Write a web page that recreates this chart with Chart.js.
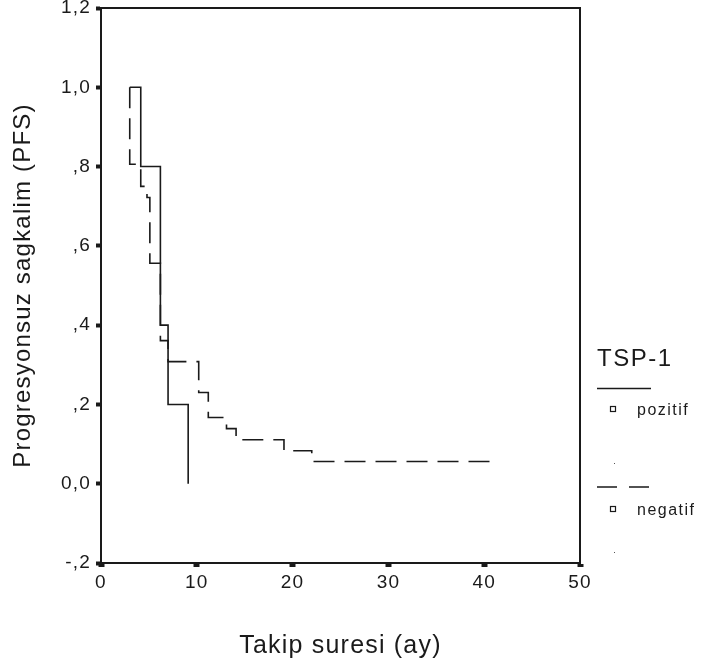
<!DOCTYPE html>
<html>
<head>
<meta charset="utf-8">
<script src="https://cdn.jsdelivr.net/npm/chart.js@4"></script>
<style>
    html, body { margin: 0; padding: 0; background: #fff; }
    canvas { display: block; }
</style>
</head>
<body>
<canvas id="kmChart" width="704" height="669"></canvas>
<script>
// -- Data --
const legendTitle = 'TSP-1';
const groups = ['pozitif', 'negatif'];

// pozitif (solid)
const posTimes = [3.0, 4.15, 6.2, 7.0, 9.1];
const posSurv = [1.0, 0.8, 0.4, 0.2, 0.0];

// negatif (dashed)
const negTimes = [3.0, 3.0, 4.15, 4.8, 5.1, 6.2, 7.0, 10.2, 11.2, 13.1, 14.1, 19.1, 22.0, 41.0];
const negSurv = [1.0, 0.806, 0.75, 0.722, 0.556, 0.361, 0.308, 0.23, 0.167, 0.139, 0.111, 0.083, 0.056, 0.056];

const yTickLabels = ['-,2', '0,0', ',2', ',4', ',6', ',8', '1,0', '1,2'];
const xTickLabels = ['0', '10', '20', '30', '40', '50'];

const yTitle = 'Progresyonsuz sagkalim (PFS)';
const xTitle = 'Takip suresi (ay)';

// -- Helpers --
const toPoints = (times, surv) => times.map((t, i) => ({ x: t, y: surv[i] }));
const ink = '#1a1a1a';
const family = '"Liberation Sans", Arial, sans-serif';

// letter spacing and plot frame
const framePlugin = {
    id: 'frame',
    beforeDraw(chart) {
        chart.ctx.letterSpacing = '1.2px';
    },
    afterDatasetsDraw(chart) {
        const { ctx, chartArea: a } = chart;
        ctx.save();
        ctx.strokeStyle = ink;
        ctx.lineWidth = 2;
        ctx.beginPath();
        ctx.moveTo(a.left, a.top);
        ctx.lineTo(a.right, a.top);
        ctx.lineTo(a.right, a.bottom);
        ctx.stroke();
        ctx.restore();
    }
};

// legend block on the right
const legendPlugin = {
    id: 'kmLegend',
    afterDraw(chart) {
        const ctx = chart.ctx;
        ctx.save();
        ctx.fillStyle = ink;
        ctx.strokeStyle = ink;
        ctx.letterSpacing = '1.5px';
        ctx.textAlign = 'left';
        ctx.textBaseline = 'alphabetic';
        ctx.font = '24px ' + family;
        ctx.fillText(legendTitle, 597, 366);

        const rows = [
            { y: 388.5, dash: [], sq: 406.5, label: 411, dot: 463 },
            { y: 487, dash: [20, 12], sq: 506.5, label: 511, dot: 552 }
        ];
        rows.forEach((r, i) => {
            ctx.lineWidth = 1.6;
            ctx.setLineDash(r.dash);
            ctx.beginPath();
            ctx.moveTo(597, r.y);
            ctx.lineTo(651, r.y);
            ctx.stroke();
            ctx.setLineDash([]);
            ctx.lineWidth = 1.2;
            ctx.strokeRect(610.5, r.sq, 5, 5);
            ctx.font = '16px ' + family;
            ctx.textBaseline = 'middle';
            ctx.fillText(groups[i], 637, r.label);
            ctx.fillStyle = '#555';
            ctx.fillRect(614, r.dot, 1, 1);
            ctx.fillStyle = ink;
        });
        ctx.restore();
    }
};

// -- Chart --
const ctx = document.getElementById('kmChart').getContext('2d');

new Chart(ctx, {
    type: 'line',
    data: {
        datasets: [{
            label: groups[0],
            data: toPoints(posTimes, posSurv),
            borderColor: ink,
            borderWidth: 1.6,
            pointRadius: 0,
            stepped: 'before',
            fill: false
        }, {
            label: groups[1],
            data: toPoints(negTimes, negSurv),
            borderColor: ink,
            borderWidth: 1.6,
            borderDash: [21, 10],
            pointRadius: 0,
            stepped: 'before',
            fill: false
        }]
    },
    options: {
        responsive: false,
        animation: false,
        devicePixelRatio: 1,
        layout: {
            padding: { top: 8, right: 124, left: 0, bottom: 0 }
        },
        plugins: {
            legend: { display: false },
            tooltip: { enabled: false }
        },
        scales: {
            x: {
                type: 'linear',
                min: 0,
                max: 50,
                afterFit: (scale) => { scale.height = 106; },
                grid: {
                    drawOnChartArea: false,
                    drawTicks: true,
                    tickLength: 4,
                    tickWidth: 6,
                    tickColor: ink
                },
                border: { display: true, color: ink, width: 2 },
                ticks: {
                    stepSize: 10,
                    color: ink,
                    padding: 4,
                    maxRotation: 0,
                    font: { family: family, size: 19 },
                    callback: (value, index) => xTickLabels[index]
                },
                title: {
                    display: true,
                    text: xTitle,
                    color: ink,
                    font: { family: family, size: 25 },
                    padding: { top: 0, bottom: 8 }
                }
            },
            y: {
                type: 'linear',
                min: -0.2,
                max: 1.2,
                afterFit: (scale) => { scale.width = 101; },
                grid: {
                    drawOnChartArea: false,
                    drawTicks: true,
                    tickLength: 5,
                    tickWidth: 4,
                    tickColor: ink
                },
                border: { display: true, color: ink, width: 2 },
                ticks: {
                    stepSize: 0.2,
                    color: ink,
                    padding: 5,
                    font: { family: family, size: 19, lineHeight: 0.3 },
                    callback: (value, index) => yTickLabels[index]
                },
                title: {
                    display: true,
                    text: yTitle,
                    color: ink,
                    font: { family: family, size: 24 },
                    padding: { top: 9, bottom: 0 }
                }
            }
        }
    },
    plugins: [framePlugin, legendPlugin]
});
</script>
</body>
</html>
